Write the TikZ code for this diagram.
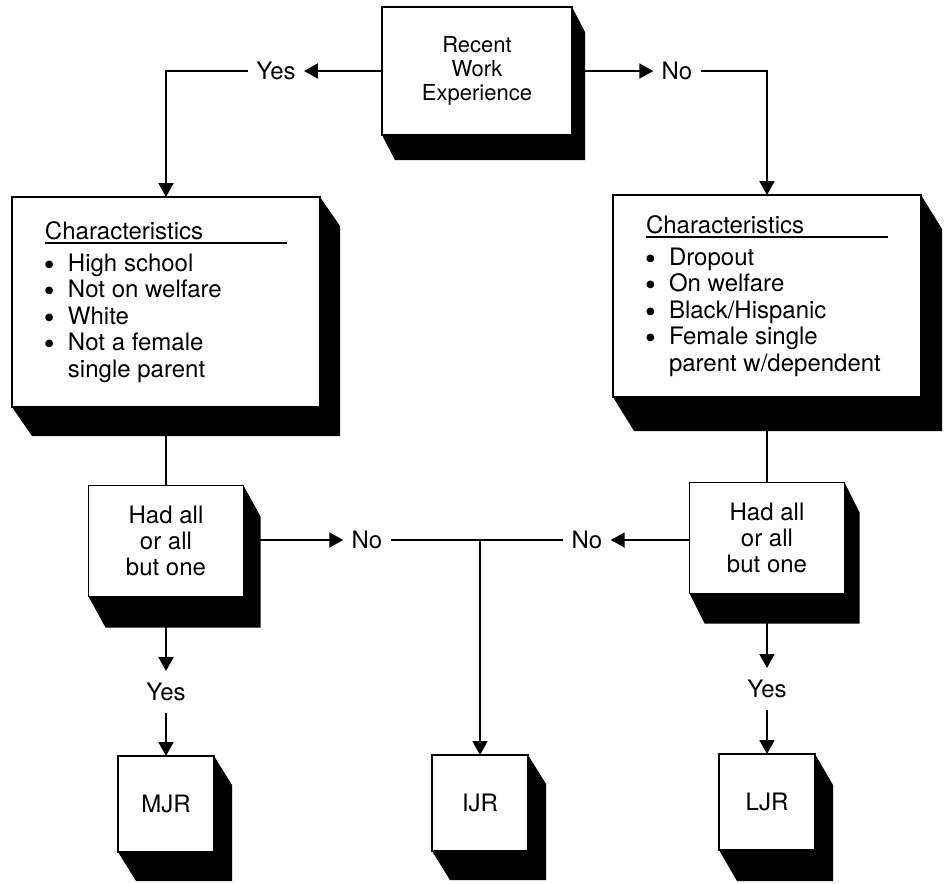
\documentclass[tikz,border=0pt]{standalone}
\usepackage{fontspec}
\setmainfont{TeX Gyre Heros}
\newfontfamily\dotfont{DejaVu Sans}
\usetikzlibrary{arrows.meta,backgrounds}

\newcommand{\charhead}[1]{\rlap{#1}\rule[-2.2pt]{121pt}{0.7pt}}
\newcommand{\itm}{\makebox[11.5pt][l]{\raisebox{2pt}{\dotfont\fontsize{5}{6}\selectfont ●}}}
\newcommand{\cont}{\hspace*{11.5pt}}

\tikzset{
  flowbox/.style={draw, rectangle, fill=white, line width=0.8pt, outer sep=0pt,
    inner sep=0pt, align=center, font=\fontsize{12}{13}\selectfont},
  charbox/.style={flowbox, minimum width=154pt, align=left,
    font=\fontsize{12}{13.25}\selectfont},
  hadbox/.style={flowbox, minimum width=77.5pt, minimum height=55.5pt},
  rankbox/.style={flowbox, minimum width=48pt, minimum height=48pt},
  answer/.style={inner xsep=4pt, inner ysep=6pt, text height=8.6pt, text depth=0pt,
    font=\fontsize{12}{13}\selectfont},
  link/.style={line width=1pt},
  >={Triangle[length=7pt,width=7.5pt]}
}

\begin{document}
\begin{tikzpicture}[x=0.5pt, y=-0.5pt]
    \useasboundingbox (0,0) rectangle (950,884);

    \node[flowbox, minimum width=95pt, minimum height=64pt, font=\fontsize{11}{12}\selectfont] (work) at (477,71) {Recent\\Work\\Experience};
    \node[charbox, minimum height=105pt] (leftchar) at (166,302) {\charhead{Characteristics}\\[2.75pt]
        \itm High school\\ \itm Not on welfare\\ \itm White\\ \itm Not a female\\ \cont single parent};
    \node[charbox, minimum height=101pt] (rightchar) at (767,296) {\charhead{Characteristics}\\[2.75pt]
        \itm Dropout\\ \itm On welfare\\ \itm Black/Hispanic\\ \itm Female single\\ \cont parent w/dependent};
    \node[hadbox] (lefthad) at (166,541) {Had all\\or all\\but one};
    \node[hadbox] (righthad) at (767,538) {Had all\\or all\\but one};
    \node[rankbox] (mjr) at (166,804) {MJR};
    \node[rankbox] (ijr) at (480,803) {IJR};
    \node[rankbox] (ljr) at (767,802) {LJR};

    \node[answer] (yesup) at (276,71) {Yes};
    \node[answer] (noup) at (677,71) {No};
    \node[answer] (noleft) at (367,540) {No};
    \node[answer] (noright) at (587,540) {No};
    \node[answer] (yesleft) at (166,692) {Yes};
    \node[answer] (yesright) at (767,689) {Yes};
    \coordinate (split) at (480,540);

    % raised shadows behind the boxes
    \begin{pgfonlayer}{background}
        \foreach \b/\dx/\dy in {work/13/25, leftchar/20/29, rightchar/21/34, lefthad/17/31,
                                righthad/15/30, mjr/18/29, ijr/18/29, ljr/18/31}
            \fill (\b.north west) -- (\b.north east) -- ([shift={(\dx,\dy)}]\b.north east)
                -- ([shift={(\dx,\dy)}]\b.south east) -- ([shift={(\dx,\dy)}]\b.south west)
                -- (\b.south west) -- cycle;
    \end{pgfonlayer}

    \draw[link,->] (work) -- (yesup);
    \draw[link,->] (yesup.west) -| (leftchar.north);
    \draw[link,->] (work) -- (noup);
    \draw[link,->] (noup.east) -| (rightchar.north);
    \draw[link] (leftchar) -- (lefthad);
    \draw[link] (rightchar) -- (righthad);
    \draw[link,->] (lefthad.east |- noleft) -- (noleft);
    \draw[link,->] (righthad.west |- noright) -- (noright);
    \draw[link] (noleft) -- (noright);
    \draw[link,->] (split) -- (ijr);
    \draw[link,->] (lefthad) -- (yesleft);
    \draw[link,->] (yesleft) -- (mjr);
    \draw[link,->] (righthad) -- (yesright);
    \draw[link,->] (yesright) -- (ljr);
\end{tikzpicture}
\end{document}
